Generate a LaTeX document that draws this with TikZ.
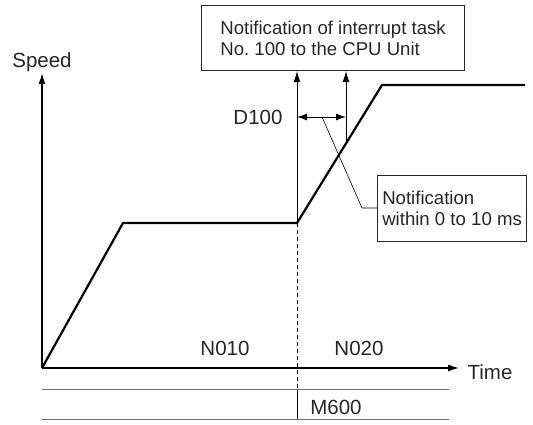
\documentclass[tikz,border=0pt]{standalone}
\usepackage{fontspec}
\setmainfont{Liberation Sans}
\usetikzlibrary{arrows.meta}
\begin{document}
\frenchspacing
\begin{tikzpicture}[x=1pt,y=-1pt,
  lbl/.style={font=\fontsize{20.5}{24}\selectfont, inner sep=0pt, text=black!85},
  boxtxt/.style={draw=black!85, line width=1.1pt, font=\fontsize{18.6}{21}\selectfont, align=left, text=black!85},
  axis/.style={line width=1.4pt, -{Latex[length=11pt,width=7pt]}},
  curve/.style={line width=2.2pt, line join=miter},
  thin/.style={line width=0.8pt},
  thinarrow/.style={line width=0.9pt, -{Latex[length=11pt,width=7pt]}},
  grayline/.style={line width=1pt, draw=black!55}]
\useasboundingbox (0,0) rectangle (533,425);
% key coordinates
\coordinate (O) at (42,368);
\coordinate (ytip) at (42,73);
\coordinate (xtip) at (459,368);
\coordinate (p1) at (123,223);
\coordinate (p2) at (297,223);
\coordinate (p3) at (382,85);
\coordinate (p4) at (525,85);
\coordinate (a2) at (346,143);
\coordinate (d1) at (297,117);
\coordinate (d2) at (346,117);
\coordinate (lstart) at (322,117);
\coordinate (lbend) at (362,208);
\coordinate (g1a) at (42,389);
\coordinate (g1b) at (449,389);
\coordinate (g2a) at (42,419);
\coordinate (g2b) at (449,419);
\coordinate (dv) at (297,389);
\coordinate (dvb) at (297,419);
% boxes
\node[boxtxt, anchor=north west, minimum width=263pt, minimum height=65pt, inner xsep=15pt] (tbox) at (201,5)
  {Notification of interrupt task\\No. 100 to the CPU Unit};
\node[boxtxt, anchor=north west, minimum width=149pt, minimum height=66pt, inner xsep=3pt] (lbox) at (377,175)
  {Notification\\within 0 to 10 ms};
% axes
\draw[axis] (O) -- (ytip);
\draw[axis] (O) -- (xtip);
% speed curve
\draw[curve] (O) -- (p1) -- (p2) -- (p3) -- (p4);
% dashed and lower lines
\draw[thin, dashed, dash pattern=on 4pt off 3pt] (p2) -- (dv);
\draw[thin] (dv) -- (dvb);
\draw[grayline] (g1a) -- (g1b);
\draw[grayline] (g2a) -- (g2b);
% notification arrows
\draw[thinarrow] (p2) -- (p2 |- tbox.south);
\draw[thinarrow] (a2) -- (a2 |- tbox.south);
\draw[line width=0.9pt, {Latex[length=10pt,width=7pt]}-{Latex[length=10pt,width=7pt]}] (d1) -- (d2);
\draw[line width=0.6pt] (lstart) -- (lbend) -- (lbox.west |- lbend);
% labels
\node[lbl] (speed) at (42,62) {Speed};
\node[lbl] (time) at (490,372) {Time};
\node[lbl] (n010) at (225,348) {N010};
\node[lbl] (n020) at (359,348) {N020};
\node[lbl] (d100) at (258,117) {D100};
\node[lbl] (m600) at (336,407) {M600};
\end{tikzpicture}
\end{document}
